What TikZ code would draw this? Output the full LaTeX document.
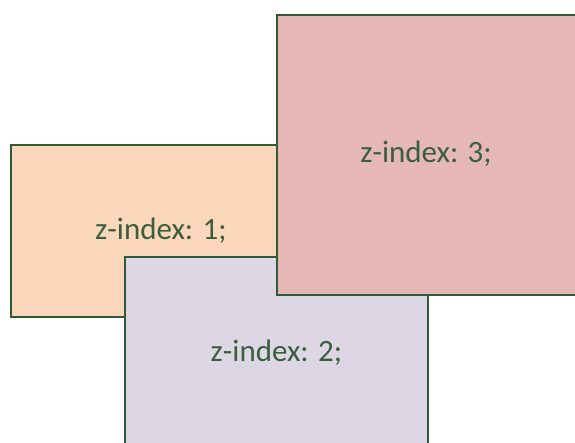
\documentclass[tikz,border=0pt]{standalone}
\usepackage{fontspec}
\setmainfont{Carlito}
\usetikzlibrary{positioning}
\definecolor{zborder}{HTML}{2E5A36}
\definecolor{ztext}{HTML}{3A5E3E}
\definecolor{zorange}{HTML}{FAD7BA}
\definecolor{zpurple}{HTML}{DDD6E4}
\definecolor{zred}{HTML}{E5B8B7}

\begin{document}
\begin{tikzpicture}
            [
            x=1pt, y=-1pt,
            zbox/.style={rectangle, draw=zborder, line width=1.8pt,
                anchor=north west, inner sep=0pt, text=ztext,
                font=\fontsize{31}{36}\selectfont, fill=#1}
            ]
            \useasboundingbox (0,0) rectangle (575,442);
            \clip (0,0) rectangle (575,442);

            % stacked boxes, drawn in z order
            \node (box1) [zbox=zorange, minimum width=300pt, minimum height=172pt]
                at (10,144) {z-index: 1;};
            \node (box2) [zbox=zpurple, minimum width=303pt, minimum height=192pt]
                at (124,256) {z-index: 2;};
            \node (box3) [zbox=zred, minimum width=310pt, minimum height=280pt]
                at (276,14) {};
            \node (label3) [text=ztext, font=\fontsize{31}{36}\selectfont]
                at (426,154) {z-index: 3;};
        \end{tikzpicture}
\end{document}
